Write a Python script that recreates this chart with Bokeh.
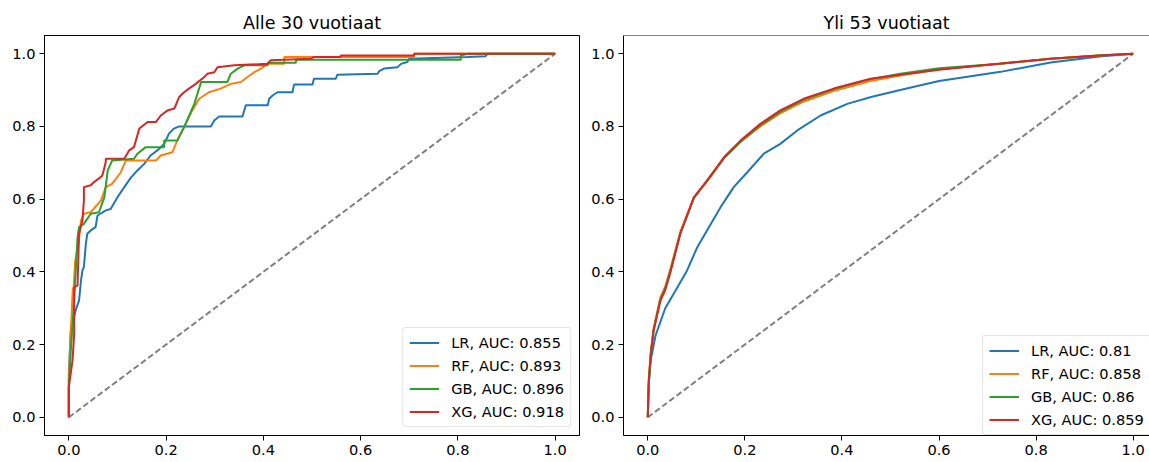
from bokeh.plotting import figure
from bokeh.layouts import row
from bokeh.models import Range1d, FixedTicker, PrintfTickFormatter, Legend, LegendItem, Span
from bokeh.embed import file_html
from bokeh.resources import INLINE

FONT = "DejaVu Sans"

titles = ["Alle 30 vuotiaat", "Yli 53 vuotiaat"]
models = ["LR", "RF", "GB", "XG"]
colors = ["#1f77b4", "#ff7f0e", "#2ca02c", "#d62728"]
auc_young = ["0.855", "0.893", "0.896", "0.918"]
auc_old = ["0.81", "0.858", "0.86", "0.859"]
ticks = [0.0, 0.2, 0.4, 0.6, 0.8, 1.0]
diag = [0.0, 1.0]

# ---- Alle 30 vuotiaat ----
lr_young_fpr = [0, 0, 0.004, 0.008, 0.014, 0.021, 0.025, 0.028, 0.031, 0.035, 0.038, 0.045, 0.055, 0.059,
                0.076, 0.086, 0.100, 0.114, 0.128, 0.141, 0.155, 0.168, 0.182, 0.196, 0.206, 0.216, 0.227,
                0.292, 0.299, 0.309, 0.357, 0.364, 0.409, 0.412, 0.419, 0.429, 0.460, 0.463, 0.501, 0.504,
                0.549, 0.552, 0.635, 0.638, 0.648, 0.676, 0.683, 0.696, 0.700, 0.820, 0.857, 0.861, 1.0]
lr_young_tpr = [0, 0.12, 0.239, 0.261, 0.294, 0.321, 0.376, 0.404, 0.413, 0.477, 0.505, 0.514, 0.523, 0.555,
                0.569, 0.573, 0.605, 0.633, 0.660, 0.679, 0.697, 0.720, 0.734, 0.752, 0.780, 0.794, 0.800,
                0.800, 0.816, 0.827, 0.827, 0.858, 0.858, 0.876, 0.885, 0.894, 0.894, 0.915, 0.915, 0.931,
                0.931, 0.942, 0.945, 0.952, 0.959, 0.963, 0.972, 0.977, 0.986, 0.991, 0.993, 1.0, 1.0]

rf_young_fpr = [0, 0, 0.003, 0.008, 0.010, 0.013, 0.020, 0.025, 0.031, 0.045, 0.066, 0.076, 0.089, 0.107,
                0.117, 0.179, 0.189, 0.213, 0.223, 0.237, 0.254, 0.268, 0.288, 0.312, 0.333, 0.354, 0.367,
                0.381, 0.395, 0.409, 0.443, 0.443, 0.710, 0.710, 1.0]
rf_young_tpr = [0, 0.10, 0.20, 0.35, 0.36, 0.43, 0.48, 0.541, 0.560, 0.564, 0.596, 0.633, 0.642, 0.674,
                0.706, 0.706, 0.720, 0.729, 0.761, 0.798, 0.844, 0.876, 0.894, 0.904, 0.917, 0.922, 0.935,
                0.949, 0.959, 0.972, 0.972, 0.991, 0.991, 1.0, 1.0]

gb_young_fpr = [0, 0, 0.004, 0.010, 0.015, 0.018, 0.021, 0.031, 0.045, 0.062, 0.073, 0.080, 0.089, 0.134,
                0.141, 0.158, 0.196, 0.196, 0.223, 0.237, 0.258, 0.272, 0.326, 0.333, 0.347, 0.361, 0.409,
                0.409, 0.467, 0.467, 0.806, 0.806, 0.820, 1.0]
gb_young_tpr = [0, 0.08, 0.183, 0.30, 0.42, 0.495, 0.523, 0.532, 0.560, 0.564, 0.605, 0.679, 0.706, 0.711,
                0.725, 0.743, 0.743, 0.761, 0.761, 0.798, 0.862, 0.922, 0.922, 0.945, 0.959, 0.968, 0.968,
                0.975, 0.975, 0.983, 0.983, 0.995, 1.0, 1.0]

xg_young_fpr = [0, 0, 0.0076, 0.011, 0.011, 0.018, 0.021, 0.028, 0.031, 0.031, 0.045, 0.052, 0.062, 0.069,
                0.076, 0.076, 0.114, 0.124, 0.134, 0.145, 0.162, 0.179, 0.189, 0.203, 0.217, 0.227, 0.237,
                0.247, 0.261, 0.278, 0.285, 0.299, 0.306, 0.340, 0.409, 0.415, 0.498, 0.504, 0.559, 0.559,
                0.710, 0.710, 1.0]
xg_young_tpr = [0, 0.083, 0.156, 0.229, 0.358, 0.362, 0.505, 0.541, 0.596, 0.633, 0.638, 0.647, 0.657, 0.665,
                0.702, 0.711, 0.711, 0.734, 0.743, 0.794, 0.812, 0.812, 0.830, 0.844, 0.849, 0.881, 0.894,
                0.904, 0.917, 0.935, 0.945, 0.949, 0.963, 0.968, 0.972, 0.982, 0.986, 0.991, 0.991, 0.995,
                0.995, 1.0, 1.0]

# ---- Yli 53 vuotiaat ----
lr_old_fpr = [0, 0.002, 0.006, 0.016, 0.036, 0.057, 0.081, 0.102, 0.122, 0.150, 0.177, 0.205, 0.239,
              0.273, 0.308, 0.356, 0.411, 0.460, 0.520, 0.600, 0.727, 0.830, 0.930, 1.0]
lr_old_tpr = [0, 0.09, 0.156, 0.225, 0.300, 0.348, 0.404, 0.468, 0.514, 0.578, 0.633, 0.674, 0.725,
              0.752, 0.789, 0.830, 0.862, 0.881, 0.900, 0.925, 0.950, 0.976, 0.992, 1.0]

grid_old_fpr = [0, 0.002, 0.006, 0.012, 0.026, 0.036, 0.047, 0.067, 0.095, 0.122, 0.157, 0.191, 0.232,
                0.273, 0.321, 0.383, 0.459, 0.520, 0.600, 0.727, 0.830, 0.930, 1.0]
rf_old_tpr = [0, 0.10, 0.18, 0.245, 0.33, 0.36, 0.41, 0.51, 0.605, 0.648, 0.712, 0.757, 0.800,
              0.836, 0.868, 0.897, 0.925, 0.940, 0.957, 0.972, 0.986, 0.995, 1.0]
gb_old_tpr = [0, 0.09, 0.17, 0.24, 0.325, 0.355, 0.405, 0.505, 0.603, 0.650, 0.713, 0.758, 0.803,
              0.840, 0.873, 0.902, 0.930, 0.945, 0.960, 0.972, 0.986, 0.995, 1.0]
xg_old_tpr = [0, 0.10, 0.17, 0.238, 0.32, 0.35, 0.40, 0.505, 0.605, 0.651, 0.715, 0.761, 0.807,
              0.844, 0.876, 0.904, 0.931, 0.942, 0.956, 0.973, 0.986, 0.995, 1.0]

young = [(lr_young_fpr, lr_young_tpr), (rf_young_fpr, rf_young_tpr),
         (gb_young_fpr, gb_young_tpr), (xg_young_fpr, xg_young_tpr)]
old = [(lr_old_fpr, lr_old_tpr), (grid_old_fpr, rf_old_tpr),
       (grid_old_fpr, gb_old_tpr), (grid_old_fpr, xg_old_tpr)]


def make(title, curves, aucs, width, bl, br, x_end, legend_loc, cropped):
    p = figure(width=width, height=462, title=title,
               x_range=Range1d(-0.05, x_end), y_range=Range1d(-0.05, 1.05),
               output_backend="svg", toolbar_location=None,
               min_border_left=bl, min_border_right=br, min_border_top=35, min_border_bottom=27)
    p.background_fill_color = "white"
    p.border_fill_color = "white"
    p.grid.visible = False
    p.title.text_font = FONT
    p.title.text_font_size = "17.5px"
    p.title.text_font_style = "normal"
    p.title.text_color = "black"
    p.title.align = "center"
    p.title.standoff = 5
    if cropped:
        p.title.offset = 4
        p.outline_line_color = None
        p.add_layout(Span(location=1.05, dimension="width", line_color="black", line_width=1))
    else:
        p.outline_line_color = "black"
        p.outline_line_width = 1
        p.outline_line_alpha = 1
    for ax in (p.xaxis[0], p.yaxis[0]):
        ax.ticker = FixedTicker(ticks=ticks)
        ax.formatter = PrintfTickFormatter(format="%.1f")
        ax.minor_tick_line_color = None
        ax.major_tick_in = 0
        ax.major_tick_out = 5
        ax.major_tick_line_color = "black"
        ax.axis_line_color = "black"
        ax.major_label_text_font = FONT
        ax.major_label_text_font_size = "14.6px"
        ax.major_label_text_color = "black"
        ax.major_label_standoff = 4

    p.line(diag, diag, line_color="#808080", line_width=2, line_dash="6 3")
    items = []
    for (fx, ty), m, c, a in zip(curves, models, colors, aucs):
        r = p.line(fx, ty, line_color=c, line_width=2)
        items.append(LegendItem(label=f"{m}, AUC: {a}", renderers=[r]))
    leg = Legend(items=items, location=legend_loc)
    leg.margin = 8
    leg.padding = 6
    leg.spacing = 6
    leg.glyph_width = 30
    leg.glyph_height = 17
    leg.label_height = 17
    leg.label_standoff = 12
    leg.label_text_font = FONT
    leg.label_text_font_size = "14.6px"
    leg.label_text_color = "black"
    leg.border_line_color = "#cccccc"
    leg.border_line_width = 1
    leg.background_fill_color = "white"
    leg.background_fill_alpha = 0.8
    try:
        leg.border_radius = 3
    except Exception:
        pass
    p.add_layout(leg)
    return p


p1 = make(titles[0], young, auc_young, 583, 44, 4, 1.05, "bottom_right", False)
p2 = make(titles[1], old, auc_old, 566, 40, 0, 1.0336, (359, 0), True)

layout = row(p1, p2)
open("out.html", "w").write(file_html(layout, INLINE))
